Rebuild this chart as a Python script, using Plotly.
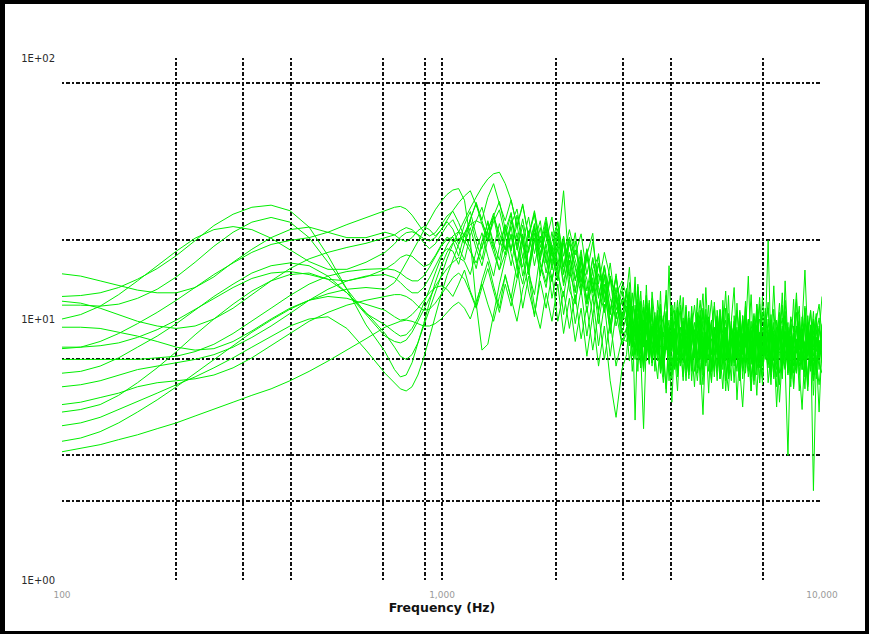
import plotly.graph_objects as go

# Frequency sampling points (Hz)
FREQ_LOW = [100, 112, 126, 141, 158, 178, 200, 224, 251, 282, 316, 355, 398, 447, 501, 562, 631, 708]
FREQ_MID = [750, 777, 805, 834, 864, 895, 927, 960, 995, 1031,
            1068, 1106, 1146, 1187, 1230, 1274, 1320, 1367, 1416, 1467,
            1520, 1575, 1631, 1690, 1751, 1814, 1879, 1947, 2017, 2089,
            2164, 2242, 2323, 2406, 2493, 2582, 2675, 2771, 2871, 2975]
FREQ_HIGH = [3060, 3113, 3167, 3222, 3277, 3334, 3392, 3450, 3510, 3571,
             3633, 3695, 3759, 3824, 3890, 3958, 4026, 4096, 4167, 4239,
             4312, 4387, 4463, 4540, 4618, 4698, 4780, 4862, 4946, 5032,
             5119, 5208, 5298, 5390, 5483, 5578, 5674, 5773, 5872, 5974,
             6077, 6183, 6290, 6399, 6509, 6622, 6737, 6853, 6972, 7093,
             7215, 7340, 7467, 7596, 7728, 7861, 7997, 8136, 8277, 8420,
             8565, 8714, 8864, 9018, 9174, 9333, 9494, 9659, 9826, 10000]
FREQ = FREQ_LOW + FREQ_MID + FREQ_HIGH

# Spectrum magnitudes, one list per channel (low band, mid band, high band)
spec_01 = [14.9, 14.6, 14.0, 13.4, 12.9, 12.6, 12.6, 13.2, 14.5, 16.5, 18.5, 20.5, 22.0, 22.5, 21.5, 20.5, 20.5, 21.5,
           21.0, 20.2, 19.8, 20.5, 21.8, 22.6, 22.0, 20.8, 21.9, 23.6,
           22.1, 19.4, 23.0, 25.8, 20.9, 18.6, 23.8, 19.5, 16.8, 21.9,
           25.6, 18.4, 22.9, 15.9, 21.3, 14.8, 19.9, 24.6, 16.2, 20.8,
           14.6, 19.9, 12.8, 17.6, 21.3, 12.2, 16.0, 10.4, 14.9, 9.8,
           11.2, 8.4, 12.6, 9.1, 7.2, 10.8, 8.0, 13.5, 7.4, 9.6,
           6.3, 8.8, 11.0, 7.1, 9.4, 5.8, 8.2, 10.5, 6.9, 8.0,
           12.1, 7.3, 6.1, 9.2, 7.7, 10.3, 5.6, 8.4, 7.0, 9.9,
           6.4, 11.6, 7.8, 5.9, 8.6, 7.2, 10.1, 6.6, 8.9, 4.9,
           7.5, 9.7, 6.2, 8.3, 12.4, 7.0, 8.8, 5.7, 9.3, 7.6,
           6.5, 10.4, 7.9, 6.0, 8.7, 11.3, 6.8, 7.7, 9.5, 5.4,
           8.1, 7.0, 10.2, 6.3, 8.6, 7.4, 9.8, 6.1, 8.3, 7.2]
spec_02 = [12.2, 12.3, 12.6, 13.2, 14.2, 15.6, 17.5, 20.0, 22.8, 25.2, 26.8, 27.3, 26.0, 22.5, 17.5, 13.0, 9.5, 7.5,
           6.4, 6.0, 6.1, 6.8, 8.0, 9.6, 11.6, 13.8, 16.0, 18.0,
           19.6, 20.4, 20.0, 18.2, 16.4, 18.9, 22.0, 24.6, 21.3, 18.4,
           22.6, 16.4, 21.2, 14.8, 19.9, 23.8, 16.6, 13.9, 19.2, 31.0,
           15.2, 12.6, 17.8, 11.4, 15.6, 17.4, 10.6, 14.3, 9.4, 11.9,
           9.4, 13.8, 8.7, 10.9, 7.5, 11.7, 6.8, 9.3, 8.1, 12.0,
           7.0, 9.8, 6.2, 8.5, 10.7, 7.3, 5.9, 9.0, 11.8, 7.6,
           8.9, 6.4, 10.1, 7.8, 5.5, 8.6, 9.9, 6.7, 13.2, 7.9,
           8.4, 6.0, 9.6, 7.1, 10.8, 5.8, 8.0, 9.2, 6.9, 7.7,
           10.6, 6.3, 8.8, 7.4, 5.3, 9.1, 7.9, 11.4, 6.6, 8.2,
           7.0, 9.4, 5.9, 8.7, 10.3, 7.2, 6.4, 8.9, 7.6, 11.9,
           6.5, 8.4, 7.1, 9.6, 5.6, 8.0, 10.7, 6.8, 7.9, 9.0]
spec_03 = [11.7, 11.5, 11.0, 10.4, 9.8, 9.4, 9.2, 9.4, 10.0, 11.0, 12.4, 14.0, 15.6, 17.0, 18.0, 18.8, 19.5, 20.5,
           21.0, 21.8, 22.4, 22.0, 21.0, 19.6, 18.6, 19.4, 21.0, 22.8,
           24.0, 21.6, 19.4, 24.2, 27.6, 23.0, 19.8, 24.8, 28.2, 22.1,
           18.2, 25.0, 19.1, 15.6, 22.4, 17.0, 23.4, 17.8, 14.2, 20.6,
           16.1, 21.4, 13.9, 18.6, 12.6, 17.8, 11.6, 16.4, 10.8, 13.4,
           10.6, 7.9, 9.8, 14.5, 8.3, 6.9, 11.1, 8.8, 10.2, 6.6,
           9.3, 7.7, 12.8, 6.8, 8.4, 9.9, 6.1, 7.8, 10.4, 8.2,
           6.0, 9.1, 7.4, 11.2, 8.0, 6.5, 9.4, 7.2, 8.5, 5.2,
           9.7, 7.6, 6.3, 10.9, 8.1, 7.0, 12.3, 6.7, 8.6, 7.5,
           9.2, 5.9, 8.3, 10.0, 7.1, 6.2, 9.5, 8.0, 6.8, 10.7,
           7.8, 5.6, 8.5, 7.3, 9.9, 6.6, 14.0, 7.9, 6.1, 8.8,
           7.4, 9.8, 6.9, 8.2, 5.5, 9.3, 7.6, 8.5, 6.4, 9.1]
spec_04 = [11.3, 11.3, 11.2, 11.4, 12.0, 13.0, 14.5, 16.5, 19.0, 21.5, 23.5, 24.5, 23.5, 20.5, 16.5, 13.0, 10.5, 9.5,
           8.9, 8.6, 8.7, 9.2, 10.1, 11.4, 13.0, 15.0, 17.2, 19.2,
           20.8, 21.6, 21.0, 18.8, 15.6, 19.9, 23.4, 18.9, 15.4, 20.8,
           16.0, 21.4, 14.6, 18.9, 23.2, 16.1, 13.2, 18.8, 14.0, 19.6,
           12.9, 11.4, 16.8, 14.2, 10.2, 14.9, 12.8, 9.0, 12.4, 10.2,
           12.4, 9.6, 7.8, 11.3, 8.5, 10.0, 6.4, 9.2, 11.5, 7.7,
           8.6, 10.8, 7.0, 5.7, 9.1, 7.9, 11.3, 6.6, 8.7, 7.1,
           9.8, 6.2, 8.1, 10.5, 7.4, 9.0, 6.8, 4.3, 8.4, 10.2,
           7.3, 8.9, 6.5, 9.4, 7.8, 11.0, 6.2, 8.3, 9.6, 7.0,
           5.8, 8.7, 10.4, 7.5, 9.1, 6.4, 8.2, 7.0, 12.2, 8.3,
           6.7, 9.0, 7.6, 5.5, 8.8, 10.1, 7.2, 9.3, 6.3, 8.5,
           10.6, 7.1, 8.4, 6.0, 9.2, 7.7, 5.8, 9.9, 7.3, 8.2]
spec_05 = [9.3, 9.3, 9.2, 8.9, 8.6, 8.2, 7.8, 7.6, 7.7, 8.2, 9.0, 10.0, 11.0, 11.8, 12.2, 12.0, 11.4, 10.8,
           10.2, 9.9, 10.0, 10.4, 11.0, 11.8, 12.6, 13.2, 13.4, 13.0,
           12.2, 13.6, 15.4, 12.8, 11.2, 14.0, 16.6, 13.4, 11.0, 14.8,
           12.0, 16.2, 11.0, 14.6, 10.2, 15.0, 18.4, 12.0, 15.8, 10.4,
           14.2, 9.6, 13.0, 8.6, 12.2, 7.9, 11.4, 7.2, 10.6, 8.0,
           8.8, 11.4, 7.2, 10.0, 8.9, 6.5, 9.7, 12.3, 7.6, 8.4,
           10.6, 6.9, 9.0, 7.4, 5.2, 8.8, 10.2, 7.5, 6.3, 9.3,
           7.9, 11.1, 6.6, 8.3, 9.7, 7.0, 8.8, 6.1, 10.4, 7.6,
           5.7, 9.0, 7.8, 6.9, 11.8, 8.0, 6.4, 9.1, 7.5, 8.6,
           6.7, 10.3, 8.1, 6.0, 7.8, 9.6, 6.8, 8.4, 5.6, 9.5,
           8.2, 6.9, 10.9, 7.4, 6.2, 8.6, 7.8, 9.7, 5.9, 8.1,
           9.4, 6.6, 7.9, 11.2, 7.0, 8.5, 6.3, 9.1, 8.0, 6.8]
spec_06 = [7.8, 7.8, 7.9, 8.1, 8.5, 9.1, 9.9, 10.9, 12.0, 13.2, 14.3, 15.0, 15.2, 14.8, 14.2, 14.0, 14.5, 15.5,
           16.4, 17.2, 17.6, 17.4, 16.6, 15.9, 16.2, 17.5, 19.2, 20.6,
           19.9, 17.4, 21.2, 24.0, 19.8, 16.9, 21.8, 25.4, 20.2, 17.6,
           23.0, 26.4, 19.6, 24.6, 17.8, 22.4, 16.4, 21.6, 15.6, 20.2,
           14.2, 18.4, 15.6, 11.8, 17.0, 13.2, 10.6, 14.6, 11.8, 9.6,
           13.1, 10.2, 8.0, 9.6, 11.9, 7.4, 8.8, 10.6, 6.7, 9.4,
           7.8, 9.1, 11.4, 6.5, 8.2, 7.2, 9.9, 8.0, 6.0, 10.7,
           7.7, 8.6, 5.9, 9.5, 7.1, 8.3, 10.8, 6.9, 7.9, 9.3,
           6.3, 8.5, 10.2, 7.4, 5.4, 8.9, 7.6, 9.8, 6.6, 11.5,
           7.2, 8.0, 6.5, 9.3, 7.7, 10.5, 6.1, 8.6, 7.4, 9.0,
           11.6, 6.8, 8.3, 7.0, 9.6, 6.2, 8.9, 7.8, 10.0, 6.6,
           8.4, 5.3, 9.2, 7.5, 8.7, 10.8, 6.9, 7.8, 9.4, 7.1]
spec_07 = [7.7, 7.8, 8.2, 8.8, 9.6, 10.6, 11.8, 13.2, 14.8, 16.4, 18.0, 19.3, 20.0, 20.5, 21.5, 23.0, 24.5, 26.0,
           26.8, 27.0, 26.4, 25.0, 23.2, 21.6, 20.8, 21.4, 23.0, 24.8,
           25.9, 23.4, 20.6, 24.2, 28.0, 23.8, 20.2, 24.6, 19.2, 23.0,
           18.6, 23.0, 17.2, 21.8, 16.0, 20.8, 15.0, 19.8, 23.6, 15.8,
           20.4, 14.2, 18.4, 12.8, 17.2, 12.0, 15.8, 10.8, 14.6, 10.2,
           9.9, 12.7, 8.6, 7.3, 10.5, 9.0, 11.8, 7.6, 8.9, 6.8,
           10.1, 8.3, 6.6, 9.5, 12.9, 7.4, 8.6, 6.4, 9.8, 7.5,
           8.8, 10.4, 6.9, 7.9, 9.1, 6.2, 8.4, 11.0, 7.3, 8.6,
           9.9, 6.5, 8.0, 7.0, 10.6, 7.8, 6.0, 9.3, 8.2, 7.1,
           9.6, 7.5, 11.7, 6.9, 8.0, 5.6, 8.9, 10.0, 7.3, 8.6,
           20.0, 7.4, 8.8, 6.7, 9.2, 7.6, 10.3, 6.4, 8.5, 7.3,
           9.0, 11.2, 6.7, 8.1, 7.2, 9.5, 6.5, 8.7, 10.1, 7.6]
spec_08 = [7.0, 7.0, 7.0, 7.0, 7.0, 7.1, 7.2, 7.5, 8.0, 8.8, 9.8, 11.0, 12.3, 13.6, 14.6, 15.2, 15.5, 15.6,
           15.4, 15.0, 14.4, 14.0, 14.0, 14.6, 15.8, 17.4, 19.0, 20.2,
           20.6, 18.8, 16.8, 21.0, 23.9, 26.8, 21.6, 18.6, 23.2, 18.4,
           24.0, 18.8, 15.8, 21.2, 25.0, 17.8, 22.6, 16.4, 21.4, 15.0,
           19.8, 15.6, 12.4, 17.2, 13.6, 10.8, 16.0, 12.0, 10.0, 12.8,
           10.3, 8.2, 9.4, 7.0, 11.6, 8.6, 6.3, 9.7, 7.9, 10.9,
           7.2, 5.9, 8.9, 10.3, 7.6, 9.2, 6.7, 8.0, 11.1, 6.8,
           8.4, 7.5, 9.9, 6.3, 8.7, 10.6, 7.4, 5.6, 8.8, 7.0,
           9.4, 11.2, 7.7, 6.6, 8.5, 9.9, 7.1, 8.4, 5.7, 9.1,
           7.9, 6.7, 10.2, 8.3, 7.0, 9.6, 6.5, 8.9, 7.4, 11.0,
           8.1, 6.3, 9.0, 7.7, 8.5, 5.9, 9.8, 7.2, 6.9, 8.8,
           7.4, 10.4, 6.4, 8.2, 9.6, 7.0, 8.6, 5.9, 9.2, 8.0]
spec_09 = [6.2, 6.3, 6.6, 7.1, 7.8, 8.6, 9.6, 10.8, 12.2, 13.6, 15.0, 16.0, 16.4, 16.0, 14.6, 12.6, 10.4, 8.6,
           8.2, 8.1, 8.3, 8.9, 9.8, 10.9, 12.1, 13.3, 14.5, 15.6,
           16.5, 17.2, 16.6, 14.8, 18.2, 21.4, 17.4, 14.6, 18.9, 22.6,
           17.8, 14.4, 19.8, 15.0, 12.4, 17.8, 21.2, 15.4, 19.6, 13.8,
           18.0, 12.8, 16.8, 11.4, 15.4, 10.6, 14.6, 9.6, 13.2, 8.8,
           9.0, 11.9, 10.1, 7.6, 8.7, 12.8, 8.2, 10.4, 7.1, 9.3,
           8.0, 10.7, 6.4, 8.9, 7.7, 16.0, 7.5, 9.2, 6.2, 8.4,
           10.1, 7.2, 9.0, 6.6, 8.0, 12.0, 7.0, 8.9, 6.6, 9.7,
           7.4, 8.3, 5.8, 9.5, 7.8, 6.9, 10.5, 8.1, 7.2, 9.3,
           6.1, 8.5, 7.8, 9.9, 6.7, 8.8, 10.9, 7.1, 5.9, 8.6,
           7.5, 9.6, 6.9, 8.3, 11.5, 7.7, 6.5, 9.0, 8.2, 6.2,
           9.4, 7.6, 8.9, 6.7, 10.3, 7.9, 6.1, 8.5, 7.4, 9.5]
spec_10 = [5.5, 5.6, 5.8, 6.1, 6.4, 6.6, 6.8, 7.0, 7.3, 7.8, 8.5, 9.4, 10.5, 11.8, 13.0, 14.0, 14.6, 14.8,
           14.4, 13.8, 13.1, 12.6, 12.6, 13.2, 14.4, 16.0, 17.6, 18.6,
           18.2, 16.2, 19.4, 22.4, 18.6, 16.0, 20.2, 23.6, 26.2, 20.8,
           25.2, 19.0, 24.2, 18.0, 22.8, 16.8, 22.0, 15.8, 20.8, 14.8,
           19.4, 16.0, 13.2, 18.4, 11.8, 16.2, 13.0, 10.4, 14.6, 9.4,
           12.9, 10.6, 8.5, 9.3, 13.6, 7.9, 9.9, 7.2, 10.8, 8.6,
           9.6, 7.4, 8.8, 6.0, 10.2, 7.8, 9.4, 11.6, 7.5, 6.6,
           9.0, 8.1, 10.7, 6.8, 8.4, 7.3, 9.6, 12.5, 7.4, 8.5,
           6.5, 9.2, 7.7, 10.4, 6.8, 8.7, 5.9, 9.4, 8.0, 7.1,
           10.8, 7.6, 8.9, 6.3, 9.0, 7.3, 11.4, 8.2, 6.6, 9.2,
           7.4, 8.7, 6.0, 9.9, 7.6, 8.4, 10.7, 6.7, 8.6, 7.8,
           6.2, 9.3, 7.7, 11.0, 8.1, 6.6, 9.0, 7.5, 8.8, 12.2]
spec_11 = [4.7, 4.8, 5.0, 5.2, 5.5, 5.7, 5.8, 5.9, 6.1, 6.5, 7.1, 7.9, 8.8, 9.8, 10.6, 11.3, 11.8, 12.2,
           12.4, 12.4, 12.2, 11.8, 11.2, 10.8, 10.9, 11.5, 12.4, 13.4,
           14.4, 15.0, 14.2, 12.6, 11.0, 13.2, 15.6, 12.8, 10.6, 13.6,
           11.2, 14.2, 17.6, 12.8, 10.4, 14.0, 11.0, 14.8, 9.8, 12.8,
           9.2, 12.4, 8.4, 11.2, 7.6, 10.6, 7.0, 9.8, 6.6, 8.4,
           8.2, 9.9, 11.2, 4.1, 9.4, 7.5, 8.6, 6.9, 10.8, 8.3,
           7.0, 8.0, 9.5, 6.4, 10.5, 7.4, 8.4, 9.8, 6.3, 7.9,
           5.8, 9.7, 8.3, 6.9, 7.4, 9.9, 8.2, 6.4, 10.9, 7.8,
           6.8, 8.8, 10.3, 5.9, 7.3, 9.2, 6.8, 8.3, 7.8, 6.3,
           9.8, 7.3, 11.2, 6.7, 8.2, 7.0, 9.4, 5.7, 8.6, 7.2,
           10.0, 6.6, 8.1, 9.3, 5.6, 7.9, 8.8, 6.5, 9.6, 7.1,
           8.3, 6.1, 9.1, 7.6, 5.3, 8.4, 7.2, 10.2, 6.8, 6.2]
spec_12 = [4.4, 4.5, 4.7, 5.1, 5.7, 6.5, 7.5, 8.7, 10.0, 11.4, 12.8, 14.0, 14.8, 15.0, 14.2, 12.6, 10.6, 8.8,
           7.8, 7.2, 7.0, 7.3, 8.1, 9.4, 11.0, 12.8, 14.8, 17.0,
           19.4, 21.6, 24.0, 26.6, 29.3, 32.0, 34.4, 36.0, 36.5, 33.0,
           28.5, 22.8, 27.6, 20.4, 25.6, 18.8, 23.8, 17.4, 22.2, 16.0,
           20.6, 16.8, 13.8, 18.4, 12.8, 16.4, 11.8, 14.6, 10.4, 11.6,
           11.8, 7.9, 9.8, 13.3, 8.4, 6.5, 10.9, 8.9, 7.4, 12.7,
           9.3, 7.4, 10.3, 7.9, 5.4, 9.3, 7.9, 10.8, 7.3, 8.8,
           6.9, 11.3, 7.4, 9.8, 6.3, 8.4, 10.3, 7.4, 8.9, 6.3,
           9.3, 7.3, 8.3, 10.8, 6.4, 8.3, 7.3, 9.8, 13.2, 7.3,
           6.3, 10.3, 7.8, 9.3, 7.8, 5.8, 8.8, 6.8, 10.6, 7.5,
           8.9, 6.1, 9.7, 7.2, 8.3, 12.6, 6.9, 7.8, 5.5, 9.4,
           7.6, 8.7, 6.4, 10.1, 7.3, 9.0, 5.1, 8.4, 7.1, 9.6]
spec_13 = [3.9, 4.0, 4.2, 4.5, 4.8, 5.2, 5.6, 6.0, 6.5, 7.1, 7.8, 8.6, 9.4, 10.0, 10.2, 9.2, 7.6, 6.2,
           5.7, 5.4, 5.3, 5.5, 6.1, 7.1, 8.5, 10.3, 12.4, 14.7,
           17.0, 19.3, 21.4, 23.0, 23.8, 23.2, 21.0, 18.0, 15.4, 17.8,
           21.2, 16.4, 13.6, 18.6, 22.0, 16.4, 13.8, 19.2, 14.8, 12.2,
           16.8, 11.6, 15.6, 10.6, 14.4, 9.6, 13.6, 8.8, 12.4, 8.0,
           9.3, 6.9, 8.3, 10.8, 7.3, 9.8, 6.3, 11.3, 8.3, 6.8,
           10.3, 7.3, 8.8, 6.8, 9.3, 7.3, 4.8, 8.3, 10.8, 6.8,
           8.3, 7.3, 9.3, 5.8, 8.3, 6.8, 9.8, 7.3, 8.3, 11.3,
           6.3, 7.3, 9.3, 6.8, 8.8, 5.3, 7.8, 6.8, 9.8, 7.3,
           5.8, 8.8, 6.8, 9.3, 5.3, 7.9, 10.2, 6.5, 8.6, 7.0,
           9.1, 6.0, 8.0, 4.6, 7.4, 9.4, 6.7, 3.0, 8.2, 7.0,
           6.2, 9.0, 7.5, 5.4, 8.7, 6.6, 10.0, 7.3, 4.4, 8.1]
spec_14 = [3.4, 3.5, 3.7, 4.0, 4.4, 4.9, 5.5, 6.2, 7.0, 7.9, 8.9, 9.9, 10.9, 11.8, 12.5, 13.0, 13.2, 13.0,
           13.8, 15.0, 16.4, 18.0, 19.8, 21.8, 24.0, 26.2, 28.2, 30.0,
           31.2, 31.6, 28.5, 20.0, 11.5, 7.6, 8.0, 10.4, 13.6, 17.0,
           20.8, 15.8, 20.8, 15.2, 20.4, 14.6, 19.4, 14.0, 18.6, 13.4,
           17.6, 14.0, 17.2, 11.6, 13.4, 10.8, 14.8, 9.6, 12.0, 8.8,
           10.3, 12.4, 7.8, 9.3, 6.3, 10.4, 9.2, 7.3, 11.8, 6.8,
           9.3, 8.3, 6.2, 9.8, 12.3, 7.3, 9.3, 6.8, 8.8, 11.3,
           7.8, 5.8, 8.3, 10.3, 7.3, 9.3, 11.8, 8.3, 6.8, 8.3,
           9.8, 6.3, 10.8, 8.3, 6.8, 9.3, 7.8, 5.8, 10.3, 7.8,
           8.8, 6.8, 9.8, 7.3, 9.8, 6.5, 11.4, 7.9, 5.9, 8.8,
           7.2, 9.9, 8.3, 6.4, 10.6, 7.5, 8.7, 6.1, 9.4, 7.8,
           11.9, 6.9, 8.5, 7.4, 9.7, 6.3, 8.9, 10.5, 7.1, 8.4]
spec_15 = [3.1, 3.2, 3.3, 3.45, 3.6, 3.8, 4.0, 4.25, 4.5, 4.8, 5.1, 5.4, 5.8, 6.3, 6.9, 7.6, 8.4, 9.3,
           9.6, 9.8, 9.9, 9.8, 9.6, 9.4, 9.4, 9.6, 10.0, 10.6,
           11.2, 11.6, 11.0, 10.0, 11.8, 13.6, 11.4, 9.8, 12.2, 14.6,
           12.0, 9.8, 13.0, 15.6, 11.2, 9.2, 12.6, 9.8, 13.6, 8.8,
           12.0, 8.2, 11.0, 7.2, 10.4, 6.6, 9.4, 5.8, 4.2, 6.4,
           7.3, 9.8, 6.3, 8.3, 9.8, 7.3, 3.8, 8.3, 6.8, 9.3,
           7.3, 10.3, 7.8, 6.3, 8.3, 6.3, 9.3, 7.3, 5.3, 8.8,
           6.8, 8.3, 6.3, 9.8, 7.3, 5.8, 7.8, 9.8, 6.8, 7.3,
           5.8, 9.3, 7.8, 6.3, 8.3, 6.8, 5.3, 8.3, 6.8, 8.8,
           6.3, 4.6, 7.2, 8.9, 6.0, 7.7, 5.1, 8.4, 6.6, 9.2,
           5.7, 7.4, 6.5, 8.6, 4.8, 7.1, 9.0, 6.2, 7.8, 5.5,
           8.2, 6.4, 4.5, 7.6, 6.0, 8.8, 2.2, 6.9, 5.6, 7.4]
spec_16 = [10.0, 10.4, 11.2, 12.4, 14.0, 16.0, 18.2, 20.4, 22.0, 22.6, 22.0, 20.4, 18.4, 16.6, 15.5, 15.5, 16.5, 18.0,
           19.4, 20.6, 21.4, 21.6, 21.1, 20.3, 19.9, 20.5, 22.0, 24.0,
           26.0, 27.9, 29.6, 31.0, 27.4, 24.0, 29.2, 33.0, 27.6, 23.8,
           28.6, 22.6, 27.2, 20.8, 26.0, 19.6, 24.6, 18.2, 23.4, 17.4,
           22.0, 17.6, 21.2, 14.8, 19.8, 13.6, 18.0, 14.4, 12.4, 14.0,
           12.3, 15.8, 10.3, 8.3, 13.3, 9.8, 7.8, 12.3, 8.8, 10.3,
           7.8, 11.8, 9.3, 7.3, 10.3, 8.3, 11.3, 7.8, 9.8, 12.3,
           8.3, 10.3, 7.3, 9.3, 11.3, 8.8, 7.3, 10.8, 8.3, 9.3,
           11.8, 8.3, 7.3, 10.3, 8.8, 12.8, 7.8, 9.3, 8.3, 10.8,
           7.8, 9.8, 8.8, 14.6, 7.3, 10.3, 8.6, 12.1, 7.5, 9.4,
           11.0, 8.2, 13.4, 7.9, 9.7, 8.4, 11.8, 7.6, 10.2, 8.9,
           12.6, 7.7, 9.5, 15.4, 8.3, 10.7, 7.8, 9.9, 11.4, 8.5]

SPECTRA = [spec_01, spec_02, spec_03, spec_04, spec_05, spec_06, spec_07, spec_08,
           spec_09, spec_10, spec_11, spec_12, spec_13, spec_14, spec_15, spec_16]

# Axis labelling and grid positions
X_TICKS = [100, 1000, 10000]
X_TICK_TEXT = ["100", "1,000", "10,000"]
Y_TICKS = [1, 10, 100]
Y_TICK_TEXT = ["1E+00", "1E+01", "1E+02"]
X_GRID = [100, 200, 300, 400, 700, 900, 1000, 2000, 3000, 4000, 7000, 10000]
Y_GRID = [2, 3, 7, 20, 80]

for s in SPECTRA:
    if len(s) != len(FREQ):
        raise ValueError(f"spectrum length {len(s)} != {len(FREQ)}")

W, H = 869, 634
L, R, T, B = 62, 47, 58, 54
PW, PH = W - L - R, H - T - B

fig = go.Figure()
for s in SPECTRA:
    fig.add_trace(go.Scatter(x=FREQ, y=s, mode="lines",
                             line=dict(color="#00ee00", width=1),
                             hoverinfo="skip", showlegend=False))


def px_x(p):
    return (p - L) / PW


def px_y(p):
    return (H - B - p) / PH


# Black frame around the whole picture
frame = [(0, 0, W, 4), (0, 0, 5, H), (W - 4, 0, W, H), (0, H - 3, W, H)]
shapes = []
for x0, y0, x1, y1 in frame:
    shapes.append(dict(type="rect", xref="paper", yref="paper",
                       x0=px_x(x0), x1=px_x(x1), y0=px_y(y1), y1=px_y(y0),
                       fillcolor="black", line=dict(width=0), layer="above"))

grid_style = dict(showgrid=True, gridcolor="#111111", griddash="2px,2px,4px,2px", gridwidth=1.5,
                  ticks="")

fig.update_layout(
    width=W, height=H, autosize=False,
    margin=dict(l=L, r=R, t=T, b=B, pad=0),
    paper_bgcolor="white", plot_bgcolor="white",
    shapes=shapes,
    xaxis=dict(type="log", range=[2, 4], showgrid=False, zeroline=False, showline=False,
               tickmode="array", tickvals=X_TICKS, ticktext=X_TICK_TEXT, ticks="",
               ticklabelstandoff=8,
               tickfont=dict(family="DejaVu Sans", size=9, color="#9a9a9a"),
               minor=dict(tickmode="array", tickvals=X_GRID, **grid_style),
               title=dict(text="<b>Frequency (Hz)</b>", standoff=4,
                          font=dict(family="DejaVu Sans", size=12.5, color="#111111"))),
    yaxis=dict(type="log", range=[0, 2], showgrid=False, zeroline=False, showline=False,
               tickmode="array", tickvals=Y_TICKS, ticktext=Y_TICK_TEXT, ticks="",
               ticklabelstandoff=6,
               tickfont=dict(family="DejaVu Sans", size=10, color="#2a2a2a"),
               minor=dict(tickmode="array", tickvals=Y_GRID, **grid_style)),
)

fig.write_html("out.html")
